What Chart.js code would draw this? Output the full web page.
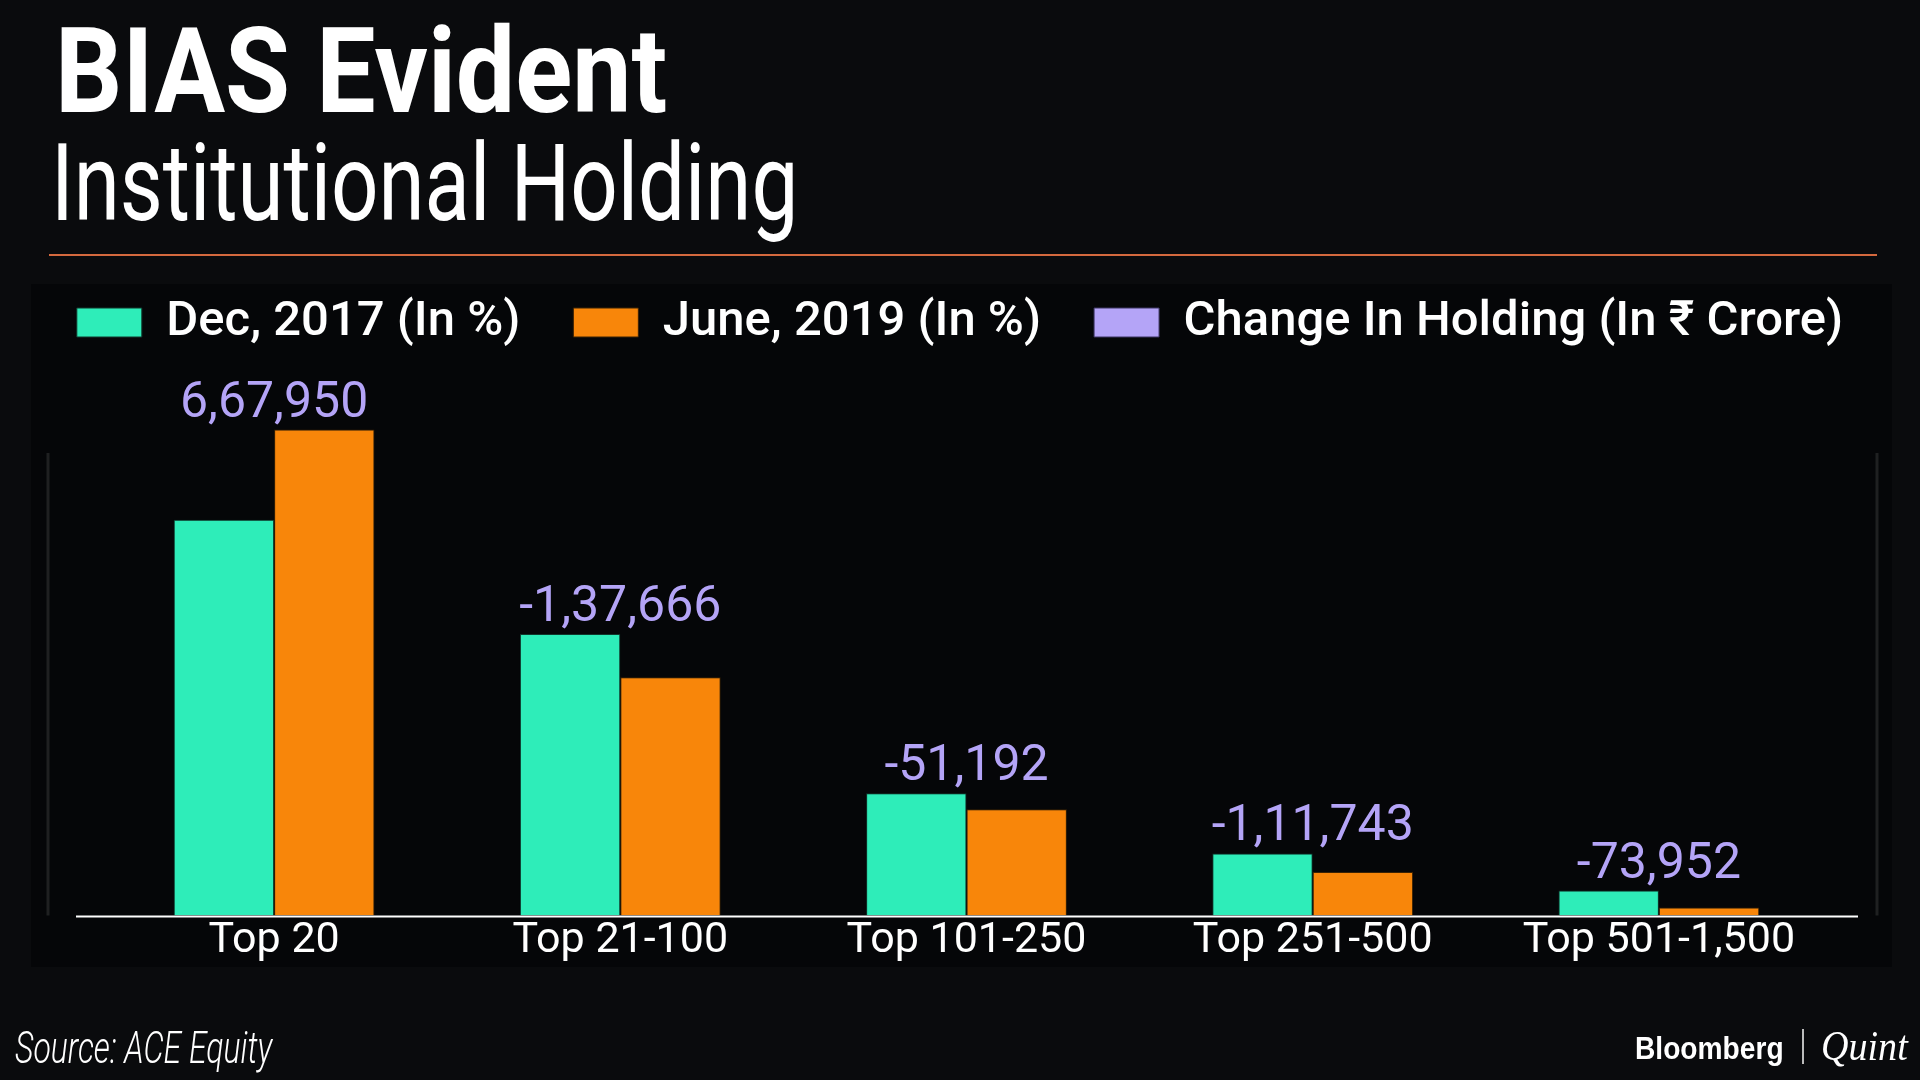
<!DOCTYPE html>
<html>
<head>
<meta charset="utf-8">
<script src="https://cdn.jsdelivr.net/npm/chart.js@4/dist/chart.umd.min.js"></script>
<style>
  html, body { margin: 0; padding: 0; background: #0a0b0d; }
  #wrap { position: relative; width: 1920px; height: 1080px; overflow: hidden; }
  #chart { position: absolute; left: 0; top: 0; }
  .txt { position: absolute; color: #fff; white-space: nowrap; line-height: 1; transform-origin: 0 0; }
  #title { left: 55px; top: 3px; font: 700 118px Roboto, sans-serif; }
  #subtitle { left: 51px; top: 121px; font: 400 107px Roboto, sans-serif; }
  #rule { position: absolute; left: 49px; top: 254px; width: 1828px; height: 2px; background: #d4693e; }
  #source { left: 15px; top: 1021px; font: italic 300 45px Roboto, sans-serif; }
  #bloomberg { left: 1635px; top: 1031px; font: 700 31px "Liberation Sans", sans-serif; }
  #bar { position: absolute; left: 1802px; top: 1029px; width: 2px; height: 35px; background: #bbb; }
  #quint { left: 1821px; top: 1022px; font: italic 400 42px "Liberation Serif", serif; }
</style>
</head>
<body>
<div id="wrap">
  <canvas id="chart" width="1920" height="1080"></canvas>
  <div class="txt" id="title" data-w="612">BIAS Evident</div>
  <div class="txt" id="subtitle" data-w="747">Institutional Holding</div>
  <div id="rule"></div>
  <div class="txt" id="source" data-w="257">Source: ACE Equity</div>
  <div class="txt" id="bloomberg" data-w="149">Bloomberg</div>
  <div id="bar"></div>
  <div class="txt" id="quint" data-w="87">Quint</div>
</div>
<script>
// chart values
const categories = ["Top 20", "Top 21-100", "Top 101-250", "Top 251-500", "Top 501-1,500"];
const dec2017 = [44.7, 31.8, 13.8, 7.0, 2.8];
const june2019 = [54.9, 26.9, 12.0, 4.9, 0.9];
const changeInHolding = [667950, -137666, -51192, -111743, -73952];

// squeeze the condensed-looking texts to their width in the picture
document.querySelectorAll(".txt").forEach(el => {
  const w = +el.dataset.w;
  el.style.transform = `scaleX(${w / el.offsetWidth})`;
});

// dark panel, faint frame lines, white base line and the change labels
const panelPlugin = {
  id: "panel",
  beforeDraw(chart) {
    const ctx = chart.ctx;
    ctx.save();
    ctx.fillStyle = "#050608";
    ctx.fillRect(31, 284, 1861, 683);
    ctx.restore();
  },
  beforeDatasetsDraw(chart) {
    const ctx = chart.ctx;
    const y0 = chart.scales.y.getPixelForValue(0);
    ctx.save();
    ctx.strokeStyle = "#1f2021";
    ctx.lineWidth = 3;
    ctx.beginPath();
    ctx.moveTo(48, 453);
    ctx.lineTo(48, y0);
    ctx.moveTo(1877, 453);
    ctx.lineTo(1877, y0);
    ctx.stroke();
    ctx.restore();
  },
  afterDatasetsDraw(chart) {
    const ctx = chart.ctx;
    const area = chart.chartArea;
    const y0 = chart.scales.y.getPixelForValue(0);
    ctx.save();
    ctx.strokeStyle = "#ffffff";
    ctx.lineWidth = 2;
    ctx.beginPath();
    ctx.moveTo(area.left - 25, y0 + 1);
    ctx.lineTo(area.right + 26, y0 + 1);
    ctx.stroke();

    const m0 = chart.getDatasetMeta(0);
    const m1 = chart.getDatasetMeta(1);
    ctx.fillStyle = "#b4a4f7";
    ctx.font = "400 50px Roboto, sans-serif";
    ctx.textAlign = "center";
    ctx.textBaseline = "alphabetic";
    chart.data.datasets[2].data.forEach((v, i) => {
      const a = m0.data[i];
      const b = m1.data[i];
      const x = (a.x + b.x) / 2;
      const top = Math.min(a.y, b.y);
      ctx.fillText(v.toLocaleString("en-IN"), x, top - 13);
    });
    ctx.restore();
  },
};

const ctx = document.getElementById("chart").getContext("2d");
new Chart(ctx, {
  type: "bar",
  data: {
    labels: categories,
    datasets: [
      {
        label: "Dec, 2017 (In %)",
        data: dec2017,
        backgroundColor: "#2eedb9",
        borderColor: "#10382c",
        borderWidth: 1,
      },
      {
        label: "June, 2019 (In %)",
        data: june2019,
        backgroundColor: "#f8860a",
        borderColor: "#3a2204",
        borderWidth: 1,
      },
      {
        type: "line",
        label: "Change In Holding (In ₹ Crore)",
        data: changeInHolding,
        yAxisID: "y2",
        showLine: false,
        pointRadius: 0,
        backgroundColor: "#b4a4f7",
        borderColor: "#3d3560",
        borderWidth: 1,
      },
    ],
  },
  options: {
    responsive: false,
    animation: false,
    events: [],
    layout: {
      padding: { top: 245, bottom: 113, left: 0, right: 0 },
    },
    datasets: {
      bar: { categoryPercentage: 0.58, barPercentage: 1.0 },
    },
    scales: {
      x: {
        grid: { display: false, drawTicks: false },
        border: { display: false },
        ticks: {
          color: "#ffffff",
          padding: 0,
          font: { family: "Roboto", size: 43 },
        },
      },
      y: {
        min: 0,
        max: 63.1,
        grid: { display: false, drawTicks: false },
        border: { display: false },
        ticks: { display: false },
        afterFit(scale) {
          scale.width = 101;
        },
      },
      y2: {
        position: "right",
        grid: { display: false, drawTicks: false },
        border: { display: false },
        ticks: { display: false },
        afterFit(scale) {
          scale.width = 88;
        },
      },
    },
    plugins: {
      tooltip: { enabled: false },
      legend: {
        position: "top",
        align: "center",
        labels: {
          color: "#ffffff",
          boxWidth: 65,
          boxHeight: 29,
          padding: 53,
          font: { family: "Roboto", size: 49, weight: "500" },
        },
      },
    },
  },
  plugins: [panelPlugin],
});
</script>
</body>
</html>
